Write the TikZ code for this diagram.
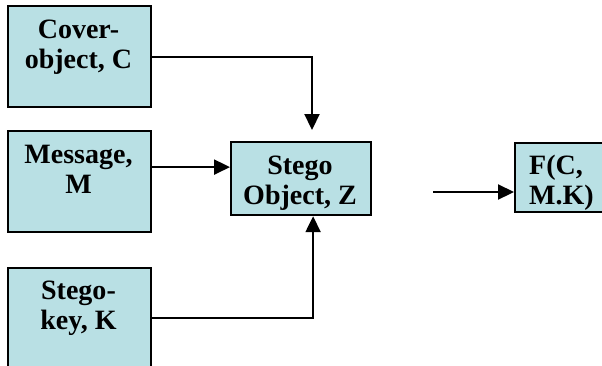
\documentclass[tikz,border=0pt]{standalone}
\usepackage{fontspec}
\setmainfont{Liberation Serif}
\usetikzlibrary{arrows.meta}
\definecolor{boxfill}{RGB}{185,224,228}
\tikzset{
  box/.style={draw=black, line width=2.2pt, fill=boxfill, anchor=north west},
  lbl/.style={font=\fontsize{28}{29.5}\selectfont\bfseries, align=center, anchor=base, inner sep=0pt},
  flow/.style={line width=2.2pt, -{Triangle[length=16pt,width=15pt]}}
}
\begin{document}
\begin{tikzpicture}[x=1pt,y=-1pt]
    \useasboundingbox (0,0) rectangle (602,365);
    \clip (0,0) rectangle (602,365);

    % input boxes
    \node[box, minimum width=143pt, minimum height=101pt] (cover) at (7,5) {};
    \node[box, minimum width=143pt, minimum height=101pt] (message) at (7,130) {};
    \node[box, minimum width=143pt, minimum height=100pt] (key) at (7,267) {};
    \node[lbl] (covertxt) at (78.5,68) {Cover-\\object, C};
    \node[lbl] (messagetxt) at (78.5,193) {Message,\\M};
    \node[lbl] (keytxt) at (78.5,329) {Stego-\\key, K};

    % stego object and result
    \node[box, minimum width=140pt, minimum height=73pt] (stego) at (230,141) {};
    \node[lbl] (stegotxt) at (300,204) {Stego\\Object, Z};
    \node[box, minimum width=100pt, minimum height=69pt] (fbox) at (514,142) {};
    \node[lbl, align=left, anchor=base west] (ftxt) at (529,204) {F(C,\\M.K)};

    \coordinate (cin) at (312,130);
    \coordinate (mout) at ([yshift=14.5pt]message.east);
    \coordinate (fin) at (433,192);
    \draw[flow] (cover.east) -| (cin);
    \draw[flow] (mout) -- (stego.west |- mout);
    \draw[flow] (key.east) -| ([xshift=12pt]stego.south);
    \draw[flow] (fin) -- (fbox.west |- fin);
\end{tikzpicture}
\end{document}
